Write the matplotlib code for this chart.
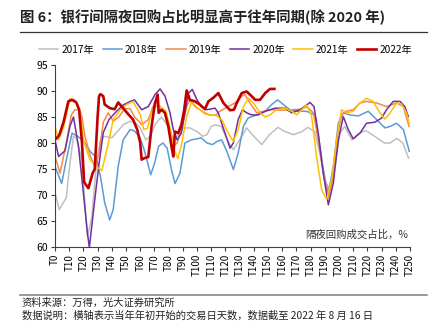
import matplotlib
matplotlib.use("Agg")
import matplotlib.pyplot as plt
from matplotlib.lines import Line2D

plt.rcParams['font.family'] = ['Noto Sans CJK SC', 'DejaVu Sans']

title = "图 6：银行间隔夜回购占比明显高于往年同期(除 2020 年)"
source = "资料来源：万得，光大证券研究所"
note = "数据说明：横轴表示当年年初开始的交易日天数，数据截至 2022 年 8 月 16 日"
ylabel_note = "隔夜回购成交占比，%"

xticks = list(range(0, 251, 10))
xtick_labels = ["T%d" % t for t in xticks]
yticks = [60, 65, 70, 75, 80, 85, 90, 95]

t_2017 = [0, 3, 8, 10, 13, 15, 19, 21, 23, 26, 29, 32, 35, 40, 44, 48, 53, 57, 60, 64, 67, 71, 75, 79,
          83, 86, 90, 95, 100, 104, 107, 110, 113, 117, 122, 125.6, 130, 135, 140, 145.6, 151, 157, 162,
          168, 174, 178, 183, 187, 191, 193.6, 197, 200.7, 204, 209, 214, 219, 225, 232, 236, 240.6, 245, 249]
v_2017 = [70.4, 67.2, 69.5, 74.9, 81.3, 81.0, 76.8, 68.5, 62.0, 65.9, 75.5, 80.6, 81.3, 81.0, 82.2, 83.5,
          84.2, 83.8, 82.9, 80.6, 81.3, 83.8, 85.0, 83.5, 81.0, 81.3, 82.9, 82.9, 82.2, 81.3, 81.6, 83.2,
          83.5, 83.2, 80.3, 78.7, 80.6, 82.9, 81.3, 79.7, 81.6, 83.0, 82.2, 81.6, 82.2, 83.0, 82.2, 77.4,
          72.3, 71.0, 75.5, 81.9, 83.2, 80.6, 81.9, 82.4, 81.3, 80.0, 80.0, 80.9, 80.0, 77.1]

t_2018 = [0, 4.7, 8, 12, 16, 20, 25, 29, 32, 35, 38.5, 41, 44.5, 48, 53, 56, 60, 63, 67.4, 70, 73, 76,
          79, 82, 84.5, 88, 91.5, 96, 100, 103, 107, 111, 114, 117.4, 121, 125.6, 129, 132.7, 136, 142,
          148, 152.6, 156.8, 160.8, 165.5, 171.4, 177, 183, 186.6, 190, 192.5, 196, 199.5, 203, 207.7,
          213.6, 220.6, 226.5, 232.4, 236, 240.6, 245.3, 249.5]
v_2018 = [75.5, 72.2, 76.8, 81.9, 81.3, 80.4, 78.3, 77.3, 73.6, 68.5, 65.2, 67.2, 75.5, 80.6, 82.6, 82.3,
          81.0, 78.5, 73.9, 76.0, 79.4, 80.0, 79.0, 74.9, 72.2, 74.2, 80.0, 80.6, 80.8, 81.0, 80.0, 79.7,
          80.3, 80.6, 78.4, 74.9, 78.1, 83.2, 84.8, 85.4, 86.1, 87.4, 88.3, 87.4, 86.4, 86.1, 86.1, 85.4,
          79.4, 72.9, 70.4, 75.5, 83.8, 85.8, 85.4, 85.2, 86.1, 84.5, 82.9, 83.2, 83.8, 82.6, 78.4]

t_2019 = [0, 3.5, 8, 11.5, 14, 16.5, 19, 21, 25, 28, 31, 34, 37.5, 41, 45, 49, 53, 56, 59, 61, 65.7, 69,
          71.5, 74, 77.5, 81, 83.3, 86, 89, 92.7, 95, 98.6, 102, 105.6, 109, 113, 116, 122, 126.8, 131.5,
          133.8, 137.3, 142, 146.7, 152.6, 159.7, 166.7, 173.7, 177.3, 182, 185.4, 189, 192.5, 196, 198.8,
          201.8, 205, 210, 214.8, 219.4, 226.5, 233.5, 240.6, 245.3, 249.3]
v_2019 = [77.5, 74.2, 80.0, 85.4, 86.4, 86.4, 85.1, 81.3, 77.4, 75.5, 78.0, 84.0, 85.8, 84.2, 85.0, 86.6,
          86.6, 85.0, 84.2, 83.5, 84.5, 87.0, 87.7, 87.0, 85.8, 82.6, 79.4, 80.0, 82.6, 87.0, 88.3, 87.0,
          86.4, 85.8, 85.4, 85.3, 86.1, 87.0, 87.7, 89.0, 89.3, 87.7, 85.8, 86.1, 86.4, 86.3, 86.4, 86.5,
          87.0, 85.8, 80.6, 74.2, 69.4, 73.6, 81.3, 85.4, 86.1, 86.4, 87.7, 88.0, 87.7, 87.0, 87.7, 87.0,
          83.2]

t_2020 = [0, 2.5, 7, 10.5, 13, 16.5, 20, 22.8, 24.2, 28, 31, 34, 38, 43, 48, 53, 56, 61, 65.7, 70.4, 74,
          77.5, 81, 83.3, 86, 89, 91.5, 94, 96.7, 100, 103, 107, 112.7, 115, 119.7, 123.3, 125.6, 129, 132,
          135, 138.5, 143, 148, 155, 162, 166.7, 172.6, 179.6, 182.4, 185.4, 188.5, 192.5, 196, 199.5, 203,
          206.5, 210, 214.8, 219.4, 225.3, 230, 233.5, 238.2, 243, 246.4, 248.8]
v_2020 = [80.6, 77.4, 78.5, 83.2, 85.0, 79.4, 70.4, 62.7, 59.9, 69.1, 76.0, 82.0, 84.5, 86.0, 87.3, 88.0,
          88.3, 86.4, 87.0, 89.3, 90.4, 89.0, 85.8, 82.6, 80.6, 81.9, 85.8, 89.6, 90.3, 88.3, 87.0, 86.4,
          86.7, 85.8, 81.9, 79.0, 80.0, 84.5, 86.4, 85.8, 85.4, 85.4, 86.1, 86.7, 86.7, 85.8, 86.4, 87.8,
          87.0, 81.9, 74.9, 68.1, 72.3, 80.6, 85.1, 82.6, 80.8, 81.9, 83.8, 84.0, 84.8, 86.4, 88.0, 88.0,
          87.0, 85.1]

t_2021 = [0, 2.5, 6, 10.5, 14, 18, 20, 24.6, 29, 33, 37.6, 41, 46, 50.5, 55, 60, 62.5, 65, 68, 71.6, 75,
          78, 81, 83.5, 86.5, 89, 92.7, 96.2, 101, 105.6, 110, 113, 117.4, 122, 125.6, 129, 132.7, 136.2,
          139.7, 144.4, 148, 151.4, 156, 162, 166.7, 170.2, 173.7, 177.3, 180.7, 184.2, 187.8, 191.3, 194.8,
          198.3, 201.8, 205.4, 210, 214.8, 219.4, 224, 228.8, 232.4, 236, 240.6, 244, 247.6, 249.3]
v_2021 = [83.2, 80.6, 83.0, 88.5, 88.3, 86.0, 80.6, 76.8, 75.5, 74.7, 80.0, 84.5, 86.4, 87.4, 88.0, 85.5,
          82.6, 82.8, 85.8, 87.2, 86.8, 86.2, 83.0, 79.0, 77.0, 79.5, 85.1, 87.9, 86.6, 85.6, 85.3, 85.4,
          84.5, 81.9, 80.3, 82.6, 87.0, 88.6, 87.7, 85.8, 85.0, 85.4, 86.4, 86.7, 86.1, 85.4, 86.4, 87.3,
          85.2, 77.4, 71.0, 69.1, 73.0, 80.6, 86.4, 85.8, 86.1, 87.7, 88.6, 88.0, 85.8, 84.6, 85.8, 87.7,
          87.5, 85.8, 83.8]

t_2022 = [0, 3, 6, 9.4, 12, 15, 17, 19, 20.5, 23.5, 26.5, 28, 30, 31, 32, 34, 35, 38.7, 42, 44.5, 48, 52,
          55, 58, 60, 61, 63, 65.7, 68, 70.4, 72.3, 73, 75, 77.4, 79.8, 82, 83.3, 84.5, 86.8, 89, 91, 92.7,
          95, 98.6, 102, 105.6, 108, 111.5, 115, 118.6, 123.3, 126, 128, 131.5, 135, 138.5, 141, 144.4,
          148, 151.4, 154.5]
v_2022 = [80.6, 81.5, 84.0, 88.0, 88.3, 87.8, 86.4, 80.0, 72.5, 71.3, 74.2, 75.0, 85.0, 89.0, 89.4, 89.0,
          87.4, 86.7, 86.5, 87.8, 86.7, 85.4, 84.5, 82.5, 80.0, 76.8, 77.1, 77.3, 83.2, 87.7, 89.3, 85.8,
          86.4, 85.8, 83.2, 79.4, 77.4, 82.2, 81.9, 83.5, 86.4, 90.1, 88.3, 88.0, 87.4, 86.5, 88.0, 88.7,
          89.6, 87.7, 86.3, 86.4, 87.7, 89.6, 89.9, 89.0, 88.3, 88.3, 89.6, 90.4, 90.4]

series = [
    ("2017年", t_2017, v_2017, "#BFBFBF", 1.1),
    ("2018年", t_2018, v_2018, "#5B9BD5", 1.1),
    ("2019年", t_2019, v_2019, "#F4894B", 1.1),
    ("2020年", t_2020, v_2020, "#7030A0", 1.1),
    ("2021年", t_2021, v_2021, "#FFC000", 1.1),
    ("2022年", t_2022, v_2022, "#C00000", 1.9),
]

fig = plt.figure(figsize=(4.41, 3.25), dpi=100)
ax = fig.add_axes([55 / 441, 78 / 325, 355 / 441, 182 / 325])

handles = []
for name, t, v, c, lw in series:
    ax.plot(t, v, color=c, lw=lw, solid_joinstyle="round")
    handles.append(Line2D([], [], color=c, lw=lw, label=name))

ax.set_xlim(0, 250)
ax.set_ylim(60, 95)
ax.set_yticks(yticks)
ax.set_xticks(xticks)
ax.set_xticklabels(xtick_labels, rotation=90, fontsize=7)
ax.tick_params(axis="y", labelsize=7.5, length=3, width=0.8, color="#404040", pad=2)
ax.tick_params(axis="x", length=3, width=0.8, color="#404040", pad=2)
for s in ["top", "right"]:
    ax.spines[s].set_visible(False)
for s in ["left", "bottom"]:
    ax.spines[s].set_color("#404040")
    ax.spines[s].set_linewidth(0.8)

ax.text(0.995, 0.07, ylabel_note, transform=ax.transAxes, ha="right", va="center",
        fontsize=7.5, color="#333333")

fig.legend(handles=handles, loc="center", bbox_to_anchor=(225.5 / 441, 1 - 50 / 325), ncol=6,
           frameon=False, fontsize=7.3, handlelength=1.9, handletextpad=0.3, columnspacing=0.85,
           borderpad=0.2)

fig.text(20 / 441, 1 - 17 / 325, title, fontsize=10.4, fontweight="bold", ha="left", va="center",
         color="#222222")
fig.add_artist(Line2D([20 / 441, 427 / 441], [1 - 32 / 325, 1 - 32 / 325], color="#333333", lw=0.9))
fig.add_artist(Line2D([20 / 441, 427 / 441], [1 - 295 / 325, 1 - 295 / 325], color="#888888", lw=1.2))
fig.text(22 / 441, 1 - 303 / 325, source, fontsize=7.4, ha="left", va="center", color="#222222")
fig.text(22 / 441, 1 - 316 / 325, note, fontsize=7.4, ha="left", va="center", color="#222222")

fig.savefig("out.png", dpi=100)
